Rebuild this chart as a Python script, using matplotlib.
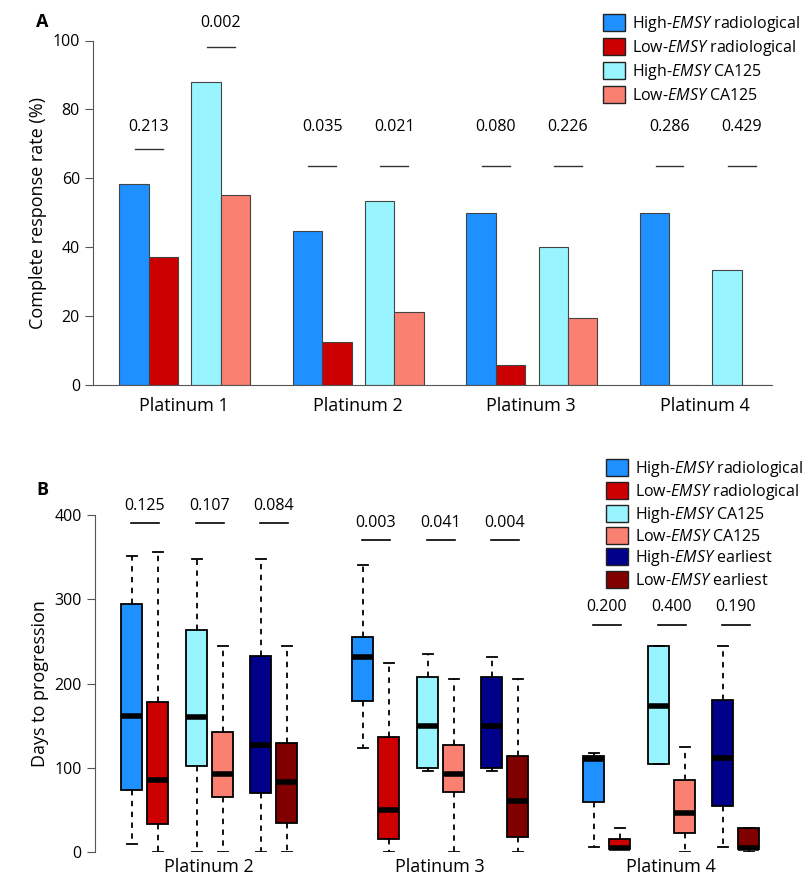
import matplotlib
matplotlib.use("Agg")
import matplotlib.pyplot as plt
from matplotlib.patches import Patch

plt.rcParams["font.family"] = ["Open Sans", "DejaVu Sans"]
plt.rcParams["mathtext.fontset"] = "custom"
plt.rcParams["mathtext.it"] = "Open Sans:italic"
plt.rcParams["mathtext.rm"] = "Open Sans"

# ---- panel A data ----
platinum_a = ["Platinum 1", "Platinum 2", "Platinum 3", "Platinum 4"]
high_rad = [58.4, 44.6, 50.0, 50.0]
low_rad = [37.3, 12.4, 5.9, 0.0]
high_ca = [88.0, 53.4, 40.0, 33.3]
low_ca = [55.2, 21.3, 19.4, 0.0]
p_rad_a = ["0.213", "0.035", "0.080", "0.286"]
p_ca_a = ["0.002", "0.021", "0.226", "0.429"]
pline_rad_a = [68.6, 63.6, 63.6, 63.6]
pline_ca_a = [98, 63.6, 63.6, 63.6]

# ---- panel B data: (whislo, q1, med, q3, whishi) ----
platinum_b = ["Platinum 2", "Platinum 3", "Platinum 4"]
series_b = ["High-EMSY radiological", "Low-EMSY radiological", "High-EMSY CA125",
            "Low-EMSY CA125", "High-EMSY earliest", "Low-EMSY earliest"]
box_stats = {
    "Platinum 2": [(10, 74, 162, 294, 351), (0, 33, 86, 178, 356),
                   (0, 102, 160, 264, 348), (0, 65, 93, 142, 244),
                   (0, 70, 127, 233, 348), (0, 34, 83, 129, 244)],
    "Platinum 3": [(124, 179, 231, 255, 341), (0, 15, 50, 137, 224),
                   (96, 100, 150, 208, 235), (0, 71, 93, 127, 205),
                   (96, 100, 150, 208, 231), (0, 18, 60, 114, 205)],
    "Platinum 4": [(6, 59, 110, 114, 117), (3, 3, 5, 16, 29),
                   (104, 104, 173, 244, 244), (0, 23, 46, 85, 125),
                   (6, 55, 111, 181, 244), (0, 3, 5, 29, 29)],
}
p_b = [["0.125", "0.107", "0.084"], ["0.003", "0.041", "0.004"], ["0.200", "0.400", "0.190"]]
pline_b = [390, 370, 270]

colors = ["#1e90ff", "#cc0000", "#98f5ff", "#fa8072", "#00008b", "#800000"]


def label(name):
    kind, rest = name.split("-", 1)
    return kind + "-$\\it{EMSY}$" + rest[4:]


fig = plt.figure(figsize=(8.1, 8.86), dpi=100)

# ---------------- panel A ----------------
axA = fig.add_axes([0.115, 1 - 385 / 886, 0.86, 344.5 / 886])
w = 29.5
gstart = [118, 292, 466, 640]
for i in range(4):
    x0 = gstart[i] + w / 2
    xs = [x0, x0 + w, x0 + 2.45 * w, x0 + 3.45 * w]
    vals = [high_rad[i], low_rad[i], high_ca[i], low_ca[i]]
    for x, v, c in zip(xs, vals, colors[:4]):
        axA.bar(x, v, width=w, color=c, edgecolor="#444444", linewidth=0.8)
    for (xa, xb), pl, pt in [((xs[0], xs[1]), pline_rad_a[i], p_rad_a[i]),
                             ((xs[2], xs[3]), pline_ca_a[i], p_ca_a[i])]:
        m = (xa + xb) / 2
        axA.plot([m - 14, m + 14], [pl, pl], color="#333333", lw=1)
        ty = 75 if pl < 90 else 105
        axA.text(m, ty, pt, ha="center", va="center", fontsize=11.5)
    axA.text(x0 + 1.7 * w, -3.5, platinum_a[i], ha="center", va="top", fontsize=13)
axA.set_xlim(92, 790)
axA.set_ylim(0, 100)
axA.set_yticks([0, 20, 40, 60, 80, 100])
axA.set_xticks([])
axA.spines["top"].set_visible(False)
axA.spines["right"].set_visible(False)
axA.spines["bottom"].set_bounds(92, 772)
axA.spines["left"].set_color("#555555")
axA.spines["bottom"].set_color("#555555")
axA.tick_params(labelsize=11.5, length=6, color="#555555")
axA.set_ylabel("Complete response rate (%)", fontsize=13)
axA.legend(handles=[Patch(facecolor=c, edgecolor="#222222", label=label(s))
                    for c, s in zip(colors[:4], series_b[:4])],
           loc="upper right", bbox_to_anchor=(1.035, 1.12), frameon=False,
           fontsize=11.5, handlelength=1.4, handleheight=1.3, labelspacing=0.25,
           handletextpad=0.4)
fig.text(0.045, 0.975, "A", fontsize=13, fontweight="bold", va="center")

# ---------------- panel B ----------------
axB = fig.add_axes([0.117, 1 - 852 / 886, 0.858, 337 / 886])
gx = [132, 363, 594]
offsets = [0, 26, 65, 91, 129, 155]
for gi, g in enumerate(platinum_b):
    for si, st in enumerate(box_stats[g]):
        lo, q1, med, q3, hi = st
        bp = axB.bxp([dict(whislo=lo, q1=q1, med=med, q3=q3, whishi=hi, fliers=[])],
                     positions=[gx[gi] + offsets[si]], widths=21, patch_artist=True,
                     showfliers=False, manage_ticks=False,
                     boxprops=dict(facecolor=colors[si], edgecolor="black", lw=1.3),
                     medianprops=dict(color="black", lw=4),
                     whiskerprops=dict(color="black", lw=1.3, ls=(0, (3, 3))),
                     capprops=dict(color="black", lw=1.3))
        for cap in bp["caps"]:
            x = cap.get_xdata()
            m = (x[0] + x[1]) / 2
            cap.set_xdata([m - 5, m + 5])
    for k in range(3):
        m = gx[gi] + offsets[2 * k] + 13
        axB.plot([m - 14, m + 14], [pline_b[gi]] * 2, color="black", lw=1.2)
        axB.text(m, pline_b[gi] + 21, p_b[gi][k], ha="center", va="center", fontsize=11.5)
    axB.text(gx[gi] + 77, -7, g, ha="center", va="top", fontsize=13)
axB.set_xlim(95, 790)
axB.set_ylim(0, 400)
axB.set_yticks([0, 100, 200, 300, 400])
axB.set_xticks([])
for s in ["top", "right", "bottom"]:
    axB.spines[s].set_visible(False)
axB.spines["left"].set_color("#555555")
axB.tick_params(labelsize=11.5, length=6, color="#555555")
axB.set_ylabel("Days to progression", fontsize=13)
axB.legend(handles=[Patch(facecolor=c, edgecolor="#222222", label=label(s))
                    for c, s in zip(colors, series_b)],
           loc="upper right", bbox_to_anchor=(1.035, 1.2), frameon=False,
           fontsize=11.5, handlelength=1.4, handleheight=1.25, labelspacing=0.18,
           handletextpad=0.4, borderpad=0.2)
fig.text(0.045, 1 - 490 / 886, "B", fontsize=13, fontweight="bold", va="center")

fig.savefig("out.png", dpi=100)
